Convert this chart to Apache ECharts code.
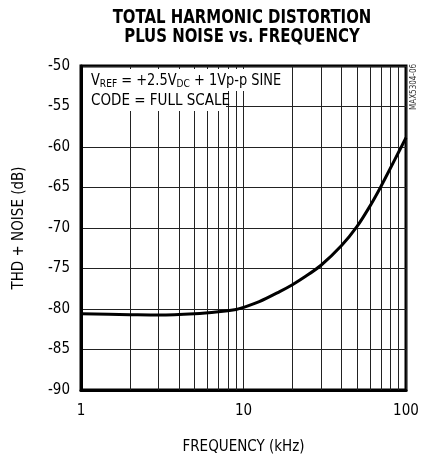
<!DOCTYPE html>
<html>
<head>
<meta charset="utf-8">
<script src="https://cdn.jsdelivr.net/npm/echarts@6/dist/echarts.min.js"></script>
<style>
  html, body { margin: 0; padding: 0; background: #fff; }
  #chart { width: 430px; height: 462px; }
</style>
</head>
<body>
<div id="chart"></div>
<script>
// fréquences (kHz) et THD+N (dB)
var freqKHz = [1, 2, 3, 5, 7, 9, 10, 12.5, 16.7, 20, 24, 30, 40, 50, 60, 70, 80, 90, 100];
var thdNoise = [-80.6, -80.7, -80.75, -80.6, -80.35, -80.05, -79.8, -79.1, -77.85, -77.0, -76.0, -74.6, -72.2, -69.8, -67.3, -64.9, -62.65, -60.65, -58.85];

// lignes secondaires de la grille log
var minorFreqs = [2, 3, 4, 5, 6, 7, 8, 9, 20, 30, 40, 50, 60, 70, 80, 90];
var yTicks = { min: -90, max: -50, step: 5 };

var FONT = "'DejaVu Sans Condensed', 'Liberation Sans Narrow', sans-serif";

var chartDom = document.getElementById('chart');
var myChart = echarts.init(chartDom);

var option = {
    animation: false,
    backgroundColor: '#fff',
    grid: {
        left: 81, right: 24, top: 66, bottom: 72,
        show: true,
        borderColor: '#000',
        borderWidth: 3
    },
    xAxis: {
        type: 'log',
        logBase: 10,
        min: 1,
        max: 100,
        name: 'FREQUENCY (kHz)',
        nameLocation: 'middle',
        nameGap: 50,
        nameTextStyle: { fontFamily: FONT, fontSize: 15, color: '#000' },
        axisLine: { show: true, lineStyle: { color: '#000', width: 3 } },
        axisTick: { show: false },
        axisLabel: { fontFamily: FONT, fontSize: 15, color: '#000', margin: 14 },
        splitLine: { show: true, lineStyle: { color: '#222', width: 1 } }
    },
    yAxis: {
        type: 'value',
        min: yTicks.min,
        max: yTicks.max,
        interval: yTicks.step,
        name: 'THD + NOISE (dB)',
        nameLocation: 'middle',
        nameGap: 54,
        nameTextStyle: { fontFamily: FONT, fontSize: 15, color: '#000' },
        axisLine: { show: true, lineStyle: { color: '#000', width: 3 } },
        axisTick: { show: false },
        axisLabel: { fontFamily: FONT, fontSize: 15, color: '#000', margin: 11 },
        splitLine: { show: true, lineStyle: { color: '#222', width: 1 } }
    },
    series: [
        {
            type: 'line',
            data: freqKHz.map(function (f, i) { return [f, thdNoise[i]]; }),
            smooth: 0.3,
            showSymbol: false,
            lineStyle: { color: '#000', width: 3 },
            z: 5,
            markLine: {
                silent: true,
                symbol: 'none',
                label: { show: false },
                lineStyle: { color: '#222', width: 1, type: 'solid' },
                data: minorFreqs.map(function (f) { return { xAxis: f }; }),
                z: 1
            }
        }
    ],
    graphic: [
        // titre (condensé)
        {
            type: 'text', z: 101, x: 242, y: 8.5, scaleX: 0.83,
            style: {
                text: 'TOTAL HARMONIC DISTORTION\nPLUS NOISE vs. FREQUENCY',
                font: 'bold 20px ' + FONT,
                lineHeight: 19,
                align: 'center',
                verticalAlign: 'top',
                fill: '#000'
            }
        },
        // encart de texte avec fond blanc
        { type: 'rect', z: 100, shape: { x: 83, y: 69, width: 202, height: 22 }, style: { fill: '#fff' } },
        { type: 'rect', z: 100, shape: { x: 83, y: 91, width: 143, height: 20 }, style: { fill: '#fff' } },
        {
            type: 'text', z: 101, x: 91, y: 72, scaleX: 0.96,
            style: {
                text: '{n|V}{s|REF}{n| = +2.5V}{s|DC}{n| + 1Vp-p SINE}',
                rich: {
                    n: { fontFamily: FONT, fontSize: 15, lineHeight: 18, fill: '#000' },
                    s: { fontFamily: FONT, fontSize: 10.5, lineHeight: 11, verticalAlign: 'bottom', fill: '#000' }
                }
            }
        },
        {
            type: 'text', z: 101, x: 91, y: 92,
            style: { text: 'CODE = FULL SCALE', font: '15px ' + FONT, lineHeight: 18, fill: '#000' }
        },
        {
            type: 'text', z: 101, x: 413.5, y: 110, rotation: Math.PI / 2,
            style: { text: 'MAX5304-06', font: '8px ' + FONT, align: 'left', verticalAlign: 'middle', fill: '#333' }
        }
    ]
};

myChart.setOption(option);
window.addEventListener('resize', function () { myChart.resize(); });
</script>
</body>
</html>
